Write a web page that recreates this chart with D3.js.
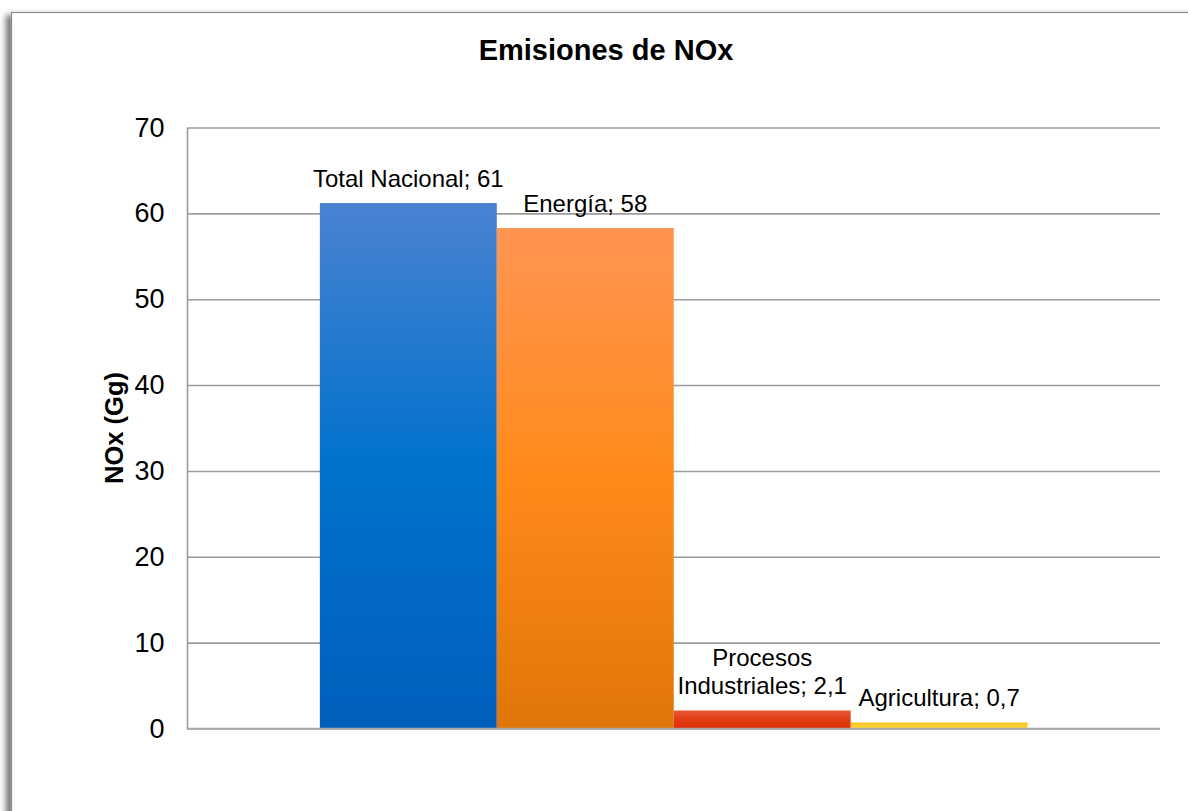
<!DOCTYPE html>
<html><head><meta charset="utf-8">
<script src="https://cdn.jsdelivr.net/npm/d3@7"></script>
<style>html,body{margin:0;padding:0;background:#fff;overflow:hidden}</style>
</head><body>
<svg id="c" width="1188" height="811"></svg>
<script>
const categories = ["Total Nacional", "Energía", "Procesos Industriales", "Agricultura"];
const labelLines = [["Total Nacional; 61"], ["Energía; 58"], ["Procesos", "Industriales; 2,1"], ["Agricultura; 0,7"]];
const values = [61.2, 58.3, 2.1, 0.7];
const yTicks = [0, 10, 20, 30, 40, 50, 60, 70];
const title = "Emisiones de NOx";
const yTitle = "NOx (Gg)";

const gradStops = [
  ["#4a82d2", "#0072cc", "#0060bc"],
  ["#ff9552", "#ff8a1a", "#e07608"],
  ["#e85838", "#e23e16", "#dd2c00"],
  ["#f6c21c", "#fbcf2e", "#ffd83e"]
];

const svg = d3.select("#c");
const defs = svg.append("defs");
const f = defs.append("filter").attr("id","sh").attr("x","-5%").attr("y","-5%").attr("width","110%").attr("height","110%");
f.append("feGaussianBlur").attr("in","SourceAlpha").attr("stdDeviation",3);
f.append("feOffset").attr("dx",-5).attr("dy",3).attr("result","ob");
f.append("feComponentTransfer").append("feFuncA").attr("type","linear").attr("slope",0.55);
const fm = f.append("feMerge"); fm.append("feMergeNode"); fm.append("feMergeNode").attr("in","SourceGraphic");

gradStops.forEach((s,i)=>{
  const g = defs.append("linearGradient").attr("id","g"+i).attr("x1",0).attr("y1",0).attr("x2",0).attr("y2",1);
  g.append("stop").attr("offset","0%").attr("stop-color",s[0]);
  g.append("stop").attr("offset","50%").attr("stop-color",s[1]);
  g.append("stop").attr("offset","100%").attr("stop-color",s[2]);
});

// frame
svg.append("rect").attr("x",11.5).attr("y",12.5).attr("width",1220).attr("height",840)
  .attr("fill","#fff").attr("stroke","#8a8a8a").attr("stroke-width",1.2).attr("filter","url(#sh)");

const pL = 187.5, pR = 1160, pT = 127.5, pB = 728.5;
const y = d3.scaleLinear().domain([0,70]).range([pB, pT]);
const x0 = d3.scaleBand().domain(["g"]).range([pL, pR]).paddingInner(0).paddingOuter(0.187);
const x1 = d3.scaleBand().domain(categories).range([x0("g"), x0("g")+x0.bandwidth()]).padding(0);

// gridlines
const grid = svg.append("g").attr("transform",`translate(${pL},0)`)
  .call(d3.axisLeft(y).tickValues(yTicks).tickSize(-(pR-pL)).tickFormat(""));
grid.select(".domain").remove();
grid.selectAll("line").attr("stroke","#9c9c9c").attr("stroke-width",1.6);

// axis line
svg.append("line").attr("x1",pL).attr("x2",pL).attr("y1",pT).attr("y2",pB+1)
  .attr("stroke","#9c9c9c").attr("stroke-width",1.6);

// tick labels
const ax = svg.append("g").attr("transform",`translate(${pL},0)`)
  .call(d3.axisLeft(y).tickValues(yTicks).tickSize(0).tickPadding(23).tickFormat(d3.format("d")));
ax.select(".domain").remove();
ax.selectAll("text").attr("font-family","'Liberation Sans', Arial, sans-serif").attr("font-size",27).attr("fill","#000");

// bars
svg.append("g").selectAll("rect").data(values).join("rect")
  .attr("x",(d,i)=>x1(categories[i]))
  .attr("width",x1.bandwidth())
  .attr("y",d=>y(d))
  .attr("height",d=>y(0)-y(d))
  .attr("fill",(d,i)=>`url(#g${i})`);

// zero line over bars
svg.append("line").attr("x1",pL).attr("x2",pR).attr("y1",y(0)).attr("y2",y(0))
  .attr("stroke","#a8a8a8").attr("stroke-width",1.6);

// data labels
const lg = svg.append("g").attr("font-family","'Liberation Sans', Arial, sans-serif").attr("font-size",24).attr("fill","#000").attr("text-anchor","middle");
values.forEach((v,i)=>{
  const lines = labelLines[i];
  const cx = x1(categories[i]) + x1.bandwidth()/2;
  const base = y(v) - 16;
  lines.forEach((t,j)=>{
    lg.append("text").attr("x",cx).attr("y", base - (lines.length-1-j)*28).text(t);
  });
});

// title
svg.append("text").attr("x",606).attr("y",60).attr("text-anchor","middle")
  .attr("font-family","'Liberation Sans', Arial, sans-serif").attr("font-weight","bold").attr("font-size",29).text(title);

// y title
svg.append("text").attr("transform","translate(123,428) rotate(-90)").attr("text-anchor","middle")
  .attr("font-family","'Liberation Sans', Arial, sans-serif").attr("font-weight","bold").attr("font-size",25.5).text(yTitle);
</script>
</body></html>
